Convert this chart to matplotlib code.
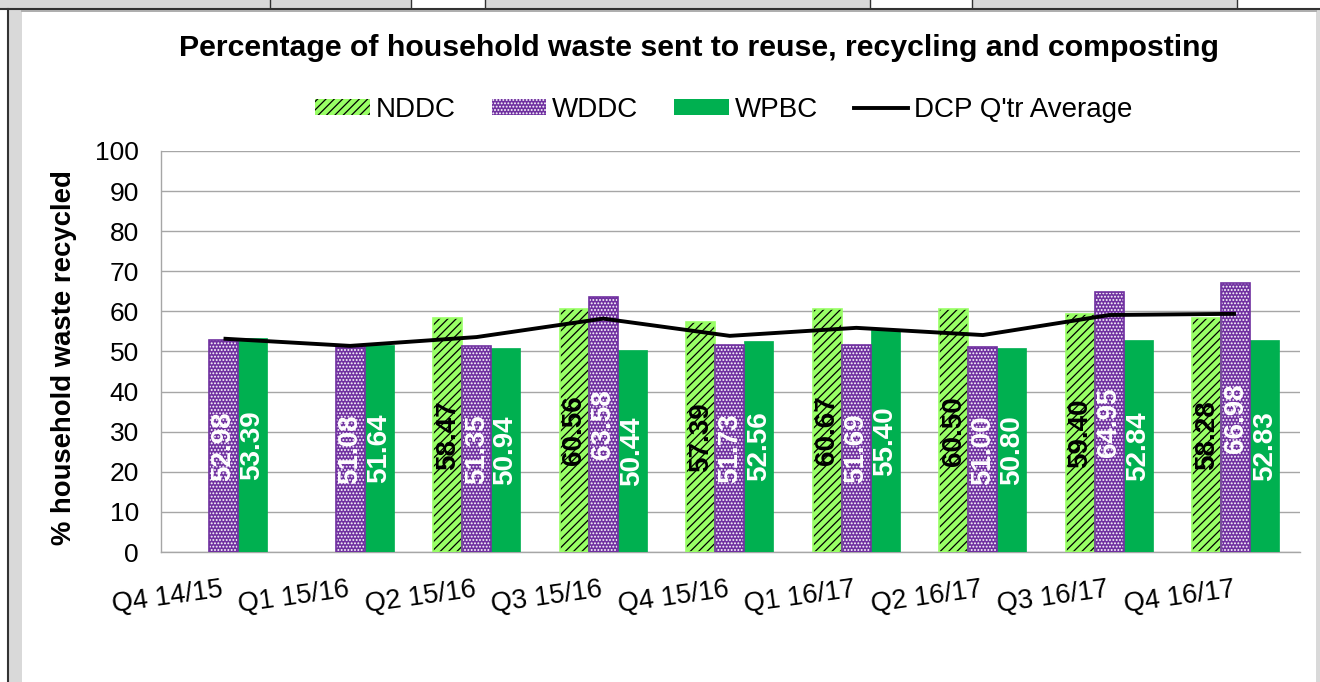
import numpy as np
import matplotlib
matplotlib.use("Agg")
import matplotlib.pyplot as plt
from matplotlib.patches import Rectangle, Patch
from matplotlib.lines import Line2D

plt.rcParams['font.family'] = ['Liberation Sans', 'DejaVu Sans']

categories = ["Q4 14/15", "Q1 15/16", "Q2 15/16", "Q3 15/16", "Q4 15/16",
              "Q1 16/17", "Q2 16/17", "Q3 16/17", "Q4 16/17"]
nddc = [np.nan, np.nan, 58.47, 60.56, 57.39, 60.67, 60.50, 59.40, 58.28]
wddc = [52.98, 51.08, 51.35, 63.58, 51.73, 51.69, 51.00, 64.95, 66.98]
wpbc = [53.39, 51.64, 50.94, 50.44, 52.56, 55.40, 50.80, 52.84, 52.83]
dcp_avg = [53.2, 51.4, 53.6, 58.2, 53.9, 55.9, 54.1, 59.1, 59.4]
yticks = [0, 10, 20, 30, 40, 50, 60, 70, 80, 90, 100]

W, H = 1320, 682
fig = plt.figure(figsize=(W / 100, H / 100), dpi=100)
fig.patch.set_facecolor('white')

def fx(px):
    return px / W

def fy(py):
    return 1 - py / H

# spreadsheet frame decorations
gray = '#D9D9D9'
fig.add_artist(Rectangle((0, fy(9)), 1, 9 / H, transform=fig.transFigure,
                         facecolor=gray, edgecolor='none', zorder=0))
for (a, b) in [(411, 485), (870, 972), (1237, 1320)]:
    fig.add_artist(Rectangle((fx(a), fy(8)), (b - a) / W, 8 / H, transform=fig.transFigure,
                             facecolor='white', edgecolor='none', zorder=1))
for xd in [270, 411, 485, 870, 972, 1237]:
    fig.add_artist(Line2D([fx(xd), fx(xd)], [fy(0), fy(8)], transform=fig.transFigure,
                          color='#333333', lw=1.0, zorder=2))
fig.add_artist(Line2D([0, 1], [fy(8.5), fy(8.5)], transform=fig.transFigure,
                      color='#333333', lw=1.5, zorder=2))
fig.add_artist(Line2D([fx(22), fx(1316)], [fy(10.5), fy(10.5)], transform=fig.transFigure,
                      color='#A0A0A0', lw=1.2, zorder=2))
fig.add_artist(Rectangle((fx(8), 0), 14 / W, fy(9), transform=fig.transFigure,
                         facecolor=gray, edgecolor='none', zorder=1))
fig.add_artist(Line2D([fx(7.5), fx(7.5)], [0, fy(9)], transform=fig.transFigure,
                      color='#333333', lw=1.5, zorder=2))
fig.add_artist(Rectangle((fx(1316), 0), 4 / W, fy(10), transform=fig.transFigure,
                         facecolor=gray, edgecolor='none', zorder=1))

ax = fig.add_axes([fx(161), fy(552), (1300 - 161) / W, (552 - 151) / H])
ax.set_facecolor('white')

x = np.arange(len(categories))
bw = 0.229

green_light = '#99FF66'
purple = '#7030A0'
green = '#00B050'

plt.rcParams['hatch.linewidth'] = 0.9

# NDDC bars
ax.bar(x - bw, nddc, bw, color=green_light, edgecolor='black', linewidth=0,
       hatch='////', zorder=3)
ax.bar(x - bw, nddc, bw, facecolor='none', edgecolor=green_light, linewidth=1.2, zorder=3.1)
# WDDC bars
ax.bar(x, wddc, bw, color=purple, edgecolor='white', linewidth=0, hatch='.....', zorder=3)
ax.bar(x, wddc, bw, facecolor='none', edgecolor=purple, linewidth=1.2, zorder=3.1)
# WPBC bars
ax.bar(x + bw, wpbc, bw, color=green, edgecolor=green, linewidth=0.5, zorder=3)

# average line
ax.plot(x, dcp_avg, color='black', lw=2.8, zorder=5, solid_capstyle='butt')

# data labels
lab_fs = 20
for xi, v in zip(x, nddc):
    if not np.isnan(v):
        ax.text(xi - bw, v / 2, f"{v:.2f}", rotation=90, ha='center', va='center',
                fontsize=lab_fs, fontweight='bold', color='black', zorder=6)
for xi, v in zip(x, wddc):
    ax.text(xi, v / 2, f"{v:.2f}", rotation=90, ha='center', va='center',
            fontsize=lab_fs, fontweight='bold', color='white', zorder=6)
for xi, v in zip(x, wpbc):
    ax.text(xi + bw, v / 2, f"{v:.2f}", rotation=90, ha='center', va='center',
            fontsize=lab_fs, fontweight='bold', color='white', zorder=6)

ax.set_xlim(-0.494, 8.506)
ax.set_ylim(0, 100)
ax.set_yticks(yticks)
ax.set_yticklabels([str(t) for t in yticks], fontsize=19)
ax.tick_params(axis='y', length=0, pad=16)
ax.grid(axis='y', color='#A6A6A6', lw=1.0, zorder=0)
ax.set_axisbelow(True)
ax.set_xticks(x)
ax.set_xticklabels(categories, fontsize=19.5, rotation=8, ha='right',
                   rotation_mode='anchor', va='baseline')
ax.tick_params(axis='x', length=0, pad=32)
for s in ['top', 'right']:
    ax.spines[s].set_visible(False)
for s in ['left', 'bottom']:
    ax.spines[s].set_color('#A6A6A6')
    ax.spines[s].set_linewidth(1.0)

# title and y-label
fig.text(fx(699), fy(48), "Percentage of household waste sent to reuse, recycling and composting",
         ha='center', va='center', fontsize=21.8, fontweight='bold')
fig.text(fx(64), fy(358), "% household waste recycled", rotation=90,
         ha='center', va='center', fontsize=19.8, fontweight='bold')

# legend
handles = [
    Patch(facecolor=green_light, edgecolor='black', linewidth=0, hatch='////'),
    Patch(facecolor=purple, edgecolor='white', linewidth=0, hatch='.....'),
    Patch(facecolor=green, edgecolor=green, linewidth=0),
    Line2D([0], [0], color='black', lw=2.8),
]
labels = ["NDDC", "WDDC", "WPBC", "DCP Q'tr Average"]
fig.legend(handles, labels, loc='center', bbox_to_anchor=(fx(724), fy(110)),
           ncol=4, frameon=False, fontsize=20, handlelength=1.95, handleheight=0.5,
           handletextpad=0.22, columnspacing=1.3, borderpad=0)

fig.savefig("out.png", dpi=100, facecolor='white')
